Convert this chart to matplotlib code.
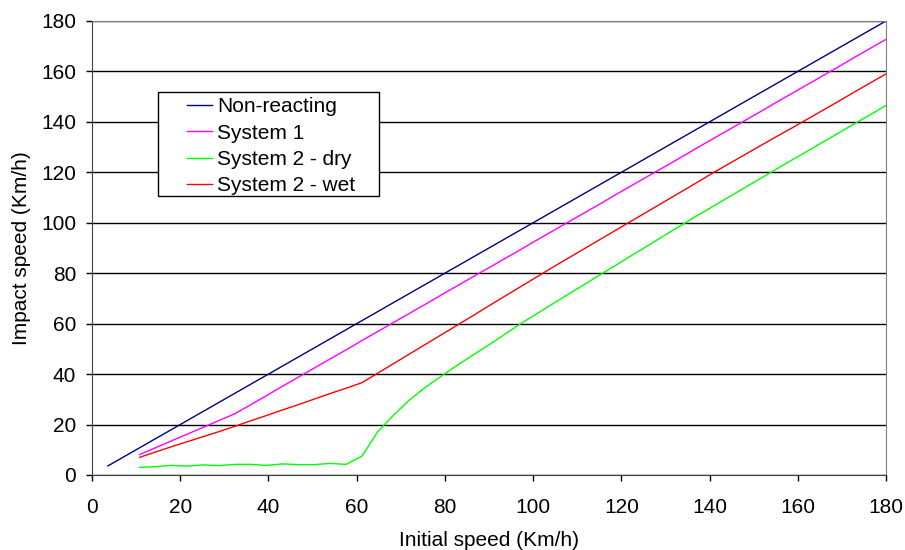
import matplotlib.pyplot as plt
from matplotlib.patches import Rectangle

plt.rcParams['font.family'] = ['Liberation Sans', 'DejaVu Sans']

# initial speed in km/h (steps of 1 m/s)
speed = [3.6, 7.2, 10.8, 14.4, 18.0, 21.6, 25.2, 28.8, 32.4, 36.0,
         39.6, 43.2, 46.8, 50.4, 54.0, 57.6, 61.2, 64.8, 68.4, 72.0,
         75.6, 79.2, 82.8, 86.4, 90.0, 93.6, 97.2, 100.8, 104.4, 108.0,
         111.6, 115.2, 118.8, 122.4, 126.0, 129.6, 133.2, 136.8, 140.4, 144.0,
         147.6, 151.2, 154.8, 158.4, 162.0, 165.6, 169.2, 172.8, 176.4, 180.0]

non_reacting = list(speed)

# the systems start at 10.8 km/h
sys1 = [8.1, 10.8, 13.5, 16.2, 18.9, 21.6, 24.3, 27.9,
        31.5, 35.2, 38.8, 42.4, 46.0, 49.6, 53.3, 56.9, 60.5, 64.1,
        67.7, 71.4, 75.0, 78.6, 82.2, 85.8, 89.4, 93.1, 96.7, 100.3,
        103.9, 107.5, 111.2, 114.8, 118.4, 122.0, 125.6, 129.3, 132.9, 136.5,
        140.1, 143.7, 147.4, 151.0, 154.6, 158.2, 161.8, 165.5, 169.1, 172.7]

sys2_dry = [3.0, 3.3, 3.8, 3.5, 4.0, 3.7, 4.2, 4.2,
            3.8, 4.4, 4.1, 4.1, 4.6, 4.2, 7.5, 17.2, 23.8, 29.8,
            34.8, 39.2, 43.5, 47.6, 51.6, 55.8, 60.0, 63.9, 67.8, 71.7,
            75.5, 79.4, 83.2, 87.1, 90.9, 94.8, 98.6, 102.4, 106.1, 109.8,
            113.5, 117.2, 120.9, 124.6, 128.2, 131.9, 135.5, 139.2, 142.8, 146.5]

sys2_wet = [7.0, 9.1, 11.2, 13.2, 15.2, 17.2, 19.3, 21.5,
            23.6, 25.8, 27.9, 30.1, 32.3, 34.4, 36.6, 40.4, 44.2, 48.0,
            51.8, 55.6, 59.4, 63.2, 67.1, 70.9, 74.7, 78.5, 82.3, 86.0,
            89.7, 93.4, 97.1, 100.8, 104.5, 108.2, 111.9, 115.6, 119.4, 123.0,
            126.6, 130.2, 133.8, 137.3, 140.9, 144.5, 148.1, 151.8, 155.4, 159.0]

xticks = list(range(0, 181, 20))

fig = plt.figure(figsize=(9.05, 5.5), dpi=100)
ax = fig.add_axes([0.1017, 0.1364, 0.8773, 0.8255])

ax.plot(speed, non_reacting, color='#000080', lw=1, label='Non-reacting')
ax.plot(speed[2:], sys1, color='#FF00FF', lw=1, label='System 1')
ax.plot(speed[2:], sys2_dry, color='#00FF00', lw=1, label='System 2 - dry')
ax.plot(speed[2:], sys2_wet, color='#FF0000', lw=1, label='System 2 - wet')

ax.set_xlim(0, 180)
ax.set_ylim(0, 180)
ax.set_xticks(xticks)
ax.set_yticks(xticks)
ax.grid(axis='y', color='black', lw=1)
ax.set_axisbelow(True)
ax.tick_params(direction='out', length=4.3, width=1, labelsize=15)
ax.tick_params(axis='x', pad=12)
ax.tick_params(axis='y', pad=7)
for s in ['top', 'right']:
    ax.spines[s].set_color('#808080')
for s in ['left', 'bottom']:
    ax.spines[s].set_color('#404040')

ax.set_xlabel('Initial speed (Km/h)', fontsize=15, labelpad=10)
ax.set_ylabel('Impact speed (Km/h)', fontsize=15, labelpad=7)

# legend box drawn by hand, Excel style (wide side padding)
ax.add_patch(Rectangle((0.0832, 0.6145), 0.2787, 0.229, transform=ax.transAxes,
                       facecolor='white', edgecolor='black', lw=1, zorder=4))
leg = ax.legend(loc='upper left', bbox_to_anchor=(0.1198, 0.8316),
                borderaxespad=0, borderpad=0, frameon=False, fontsize=15,
                handlelength=1.2, handletextpad=0.25, labelspacing=0.35)
leg.set_zorder(5)

fig.savefig('out.png')
